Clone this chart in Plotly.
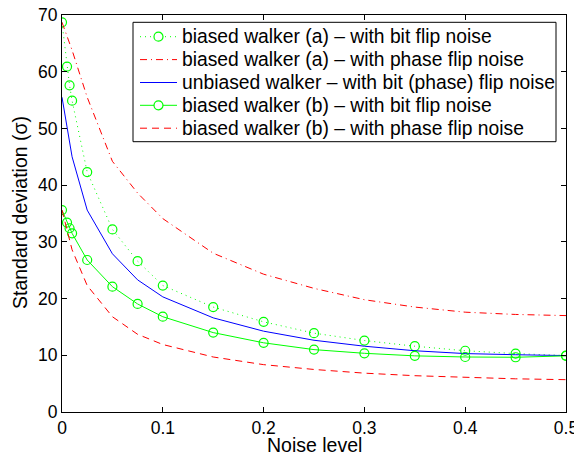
import plotly.graph_objects as go

noise = [0, 0.005, 0.0075, 0.01, 0.025, 0.05, 0.075, 0.1, 0.15, 0.2, 0.25, 0.3, 0.35, 0.4, 0.45, 0.5]

a_bit = [68.7, 60.9, 57.6, 54.9, 42.3, 32.2, 26.6, 22.3, 18.5, 15.9, 13.9, 12.6, 11.6, 10.8, 10.3, 9.95]
a_phase = [68.7, 66.2, 65.0, 63.8, 55.5, 44.2, 38.6, 34.1, 28.0, 24.3, 21.8, 19.8, 18.5, 17.6, 17.2, 17.0]
unbiased = [55.5, 50.2, 47.6, 45.0, 35.6, 27.9, 23.3, 20.3, 16.6, 14.25, 12.65, 11.6, 10.8, 10.3, 10.1, 9.95]
b_bit = [35.6, 33.4, 32.4, 31.5, 26.8, 22.1, 19.05, 16.8, 14.0, 12.2, 11.0, 10.35, 9.9, 9.7, 9.65, 9.9]
b_phase = [35.6, 32.3, 30.2, 28.6, 22.3, 16.8, 13.7, 11.9, 9.7, 8.35, 7.5, 6.85, 6.4, 6.1, 5.85, 5.7]

names = [
    "biased walker (a) \u2013 with bit flip noise",
    "biased walker (a) \u2013 with phase flip noise",
    "unbiased walker \u2013 with bit (phase) flip noise",
    "biased walker (b) \u2013 with bit flip noise",
    "biased walker (b) \u2013 with phase flip noise",
]

x_ticks = [0, 0.1, 0.2, 0.3, 0.4, 0.5]
x_tick_labels = ["0", "0.1", "0.2", "0.3", "0.4", "0.5"]
y_ticks = [0, 10, 20, 30, 40, 50, 60, 70]
x_title = "Noise level"
y_title = "Standard deviation (\u03c3)"

FONT = "Liberation Sans, Arial, Helvetica, sans-serif"
GREEN, RED, BLUE = "#00ff00", "#ff0000", "#0000ff"

styles = [
    dict(color=GREEN, dash="1px,4px", marker=True),
    dict(color=RED, dash="7px,4px,1px,4px", marker=False),
    dict(color=BLUE, dash="solid", marker=False),
    dict(color=GREEN, dash="solid", marker=True),
    dict(color=RED, dash="7px,5px", marker=False),
]
series = [a_bit, a_phase, unbiased, b_bit, b_phase]

# page offset (browser body margin) and figure geometry
OFF = 8
W, H = 582 - OFF, 454 - OFF
ML, MR, MT, MB = 54, 16, 7, 42
PW, PH = W - ML - MR, H - MT - MB


def px_x(sx):
    return (sx - OFF - ML) / PW


def px_y(sy):
    return 1 - (sy - OFF - MT) / PH


fig = go.Figure()
for vals, st, nm in zip(series, styles, names):
    fig.add_trace(go.Scatter(
        x=noise, y=vals, name=nm, showlegend=False,
        mode="lines+markers" if st["marker"] else "lines",
        line=dict(color=st["color"], width=1, dash=st["dash"]),
        marker=dict(symbol="circle-open", size=9, color=st["color"], line=dict(width=1.2)),
    ))

axis_common = dict(showline=True, linecolor="black", linewidth=1, mirror="ticks",
                   ticks="inside", ticklen=5, tickcolor="black", tickwidth=1,
                   showgrid=False, zeroline=False, automargin=False,
                   ticklabeloverflow="allow",
                   tickfont=dict(family=FONT, size=17.5, color="black"))

fig.update_xaxes(range=[0, 0.5], tickvals=x_ticks, ticktext=x_tick_labels, **axis_common)
fig.update_yaxes(range=[0, 70], tickvals=y_ticks, **axis_common)

# legend drawn as a box with samples and labels
shapes = [dict(type="rect", xref="paper", yref="paper",
               x0=px_x(133), x1=px_x(556), y0=px_y(141.7), y1=px_y(22.3),
               fillcolor="white", line=dict(color="black", width=1), layer="above")]
annotations = []
row_y = [36.7, 59.6, 82.5, 105.3, 128.2]
for ry, st, nm in zip(row_y, styles, names):
    shapes.append(dict(type="line", xref="paper", yref="paper",
                       x0=px_x(140), x1=px_x(177), y0=px_y(ry), y1=px_y(ry),
                       line=dict(color=st["color"], width=1, dash=st["dash"]), layer="above"))
    if st["marker"]:
        shapes.append(dict(type="circle", xref="paper", yref="paper",
                           x0=px_x(158.5 - 4.5), x1=px_x(158.5 + 4.5),
                           y0=px_y(ry + 4.5), y1=px_y(ry - 4.5),
                           fillcolor="white", line=dict(color=st["color"], width=1.2), layer="above"))
    annotations.append(dict(xref="paper", yref="paper", x=px_x(180), y=px_y(ry),
                            xanchor="left", yanchor="middle", showarrow=False, text=nm,
                            font=dict(family=FONT, size=19.3, color="black")))

# axis titles
annotations.append(dict(xref="paper", yref="paper", x=0.5, y=px_y(444.5),
                        xanchor="center", yanchor="middle", showarrow=False, text=x_title,
                        font=dict(family=FONT, size=19.5, color="black")))
annotations.append(dict(xref="paper", yref="paper", x=px_x(20), y=px_y(213),
                        xanchor="center", yanchor="middle", showarrow=False, text=y_title,
                        textangle=-90, font=dict(family=FONT, size=19.5, color="black")))

fig.update_layout(
    width=W, height=H,
    margin=dict(l=ML, r=MR, t=MT, b=MB),
    plot_bgcolor="white", paper_bgcolor="white",
    showlegend=False,
    shapes=shapes,
    annotations=annotations,
)

fig.write_html("out.html")
